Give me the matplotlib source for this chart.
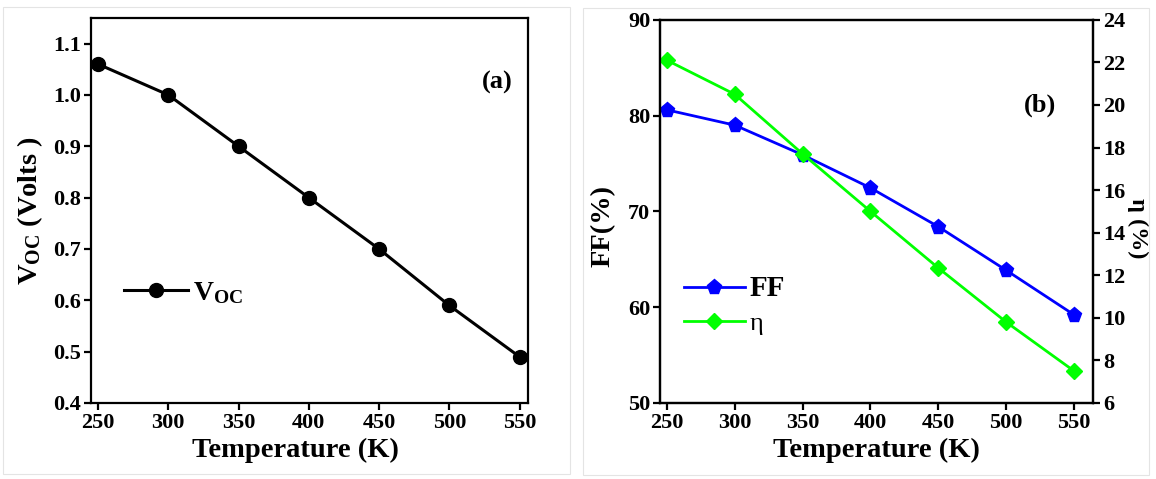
import matplotlib
matplotlib.use('Agg')
import matplotlib.pyplot as plt
from matplotlib.patches import Rectangle

# Dados
temperatura = [250, 300, 350, 400, 450, 500, 550]
voc = [1.06, 1.00, 0.90, 0.80, 0.70, 0.59, 0.49]
ff = [80.6, 79.0, 75.9, 72.45, 68.4, 63.85, 59.2]
eta = [22.1, 20.5, 17.7, 15.0, 12.34, 9.8, 7.5]

plt.rcParams['font.family'] = 'Liberation Serif'
plt.rcParams['font.weight'] = 'bold'
plt.rcParams['mathtext.fontset'] = 'custom'
plt.rcParams['mathtext.rm'] = 'Liberation Serif'
plt.rcParams['mathtext.bf'] = 'Liberation Serif:bold'
plt.rcParams['mathtext.default'] = 'bf'
plt.rcParams['axes.linewidth'] = 1.6
plt.rcParams['xtick.major.width'] = 1.6
plt.rcParams['ytick.major.width'] = 1.6
plt.rcParams['xtick.major.size'] = 5
plt.rcParams['ytick.major.size'] = 5

fig = plt.figure(figsize=(11.56, 4.79), dpi=100)

# Bordas claras das duas imagens
fig.patches.append(Rectangle((0.003, 0.01), 0.49, 0.975, transform=fig.transFigure,
                             fill=False, edgecolor='#e4e4e4', linewidth=0.8))
fig.patches.append(Rectangle((0.504, 0.008), 0.49, 0.975, transform=fig.transFigure,
                             fill=False, edgecolor='#e4e4e4', linewidth=0.8))

# Grafico (a)
ax1 = fig.add_axes([0.0787, 0.1587, 0.378, 0.804])
ax1.plot(temperatura, voc, color='black', linewidth=2.2, marker='o', markersize=10,
         label=r'V$_{\mathbf{OC}}$')
ax1.set_xlim(245, 556)
ax1.set_ylim(0.4, 1.15)
ax1.set_xticks(temperatura)
ax1.set_yticks([0.4, 0.5, 0.6, 0.7, 0.8, 0.9, 1.0, 1.1])
ax1.set_yticklabels(['0.4', '0.5', '0.6', '0.7', '0.8', '0.9', '1.0', '1.1'])
ax1.tick_params(labelsize=16, direction='out', pad=2)
ax1.set_xlabel('Temperature (K)', fontsize=20.5, fontweight='bold', labelpad=4, x=0.467)
ax1.set_ylabel(r'V$_{\mathbf{OC}}$ (Volts )', fontsize=20.5, fontweight='bold', labelpad=6)
ax1.text(0.93, 0.831, '(a)', transform=ax1.transAxes, fontsize=19, fontweight='bold',
         ha='center', va='center')
leg1 = ax1.legend(loc='center left', bbox_to_anchor=(0.075, 0.285), frameon=False,
                  fontsize=20, handlelength=2.3, numpoints=1, handletextpad=0.2,
                  borderpad=0, borderaxespad=0)

# Grafico (b)
ax2 = fig.add_axes([0.571, 0.1587, 0.3746, 0.800])
ax3 = ax2.twinx()
l1, = ax2.plot(temperatura, ff, color='#0000ff', linewidth=2, marker='p', markersize=11)
l2, = ax3.plot(temperatura, eta, color='#00ff00', linewidth=2, marker='D', markersize=8.5)
ax2.set_xlim(245, 564)
ax2.set_ylim(50, 90)
ax3.set_ylim(6, 24)
ax2.set_xticks(temperatura)
ax2.set_yticks([50, 60, 70, 80, 90])
ax3.set_yticks(range(6, 25, 2))
ax2.tick_params(labelsize=16, pad=2)
ax3.tick_params(labelsize=16, pad=2)
ax2.set_xlabel('Temperature (K)', fontsize=20.5, fontweight='bold', labelpad=4)
ax2.set_ylabel('FF(%)', fontsize=20.5, fontweight='bold', va='center')
ax2.yaxis.set_label_coords(-0.132, 0.462)
ax3.set_ylabel('η (%)', fontsize=17.5, fontweight='bold', rotation=270, va='center')
ax3.yaxis.set_label_coords(1.103, 0.457)
ax2.text(0.878, 0.778, '(b)', transform=ax2.transAxes, fontsize=19, fontweight='bold',
         ha='center', va='center')
leg2 = ax2.legend([l1, l2], ['FF', 'η'], loc='center left', bbox_to_anchor=(0.055, 0.255),
                  frameon=False, fontsize=19, handlelength=2.3, numpoints=1,
                  labelspacing=0.35, handletextpad=0.2, borderpad=0, borderaxespad=0)
leg2.get_texts()[0].set_fontsize(21)
leg2.get_texts()[1].set_fontweight('normal')

fig.savefig('out.png', dpi=100)
